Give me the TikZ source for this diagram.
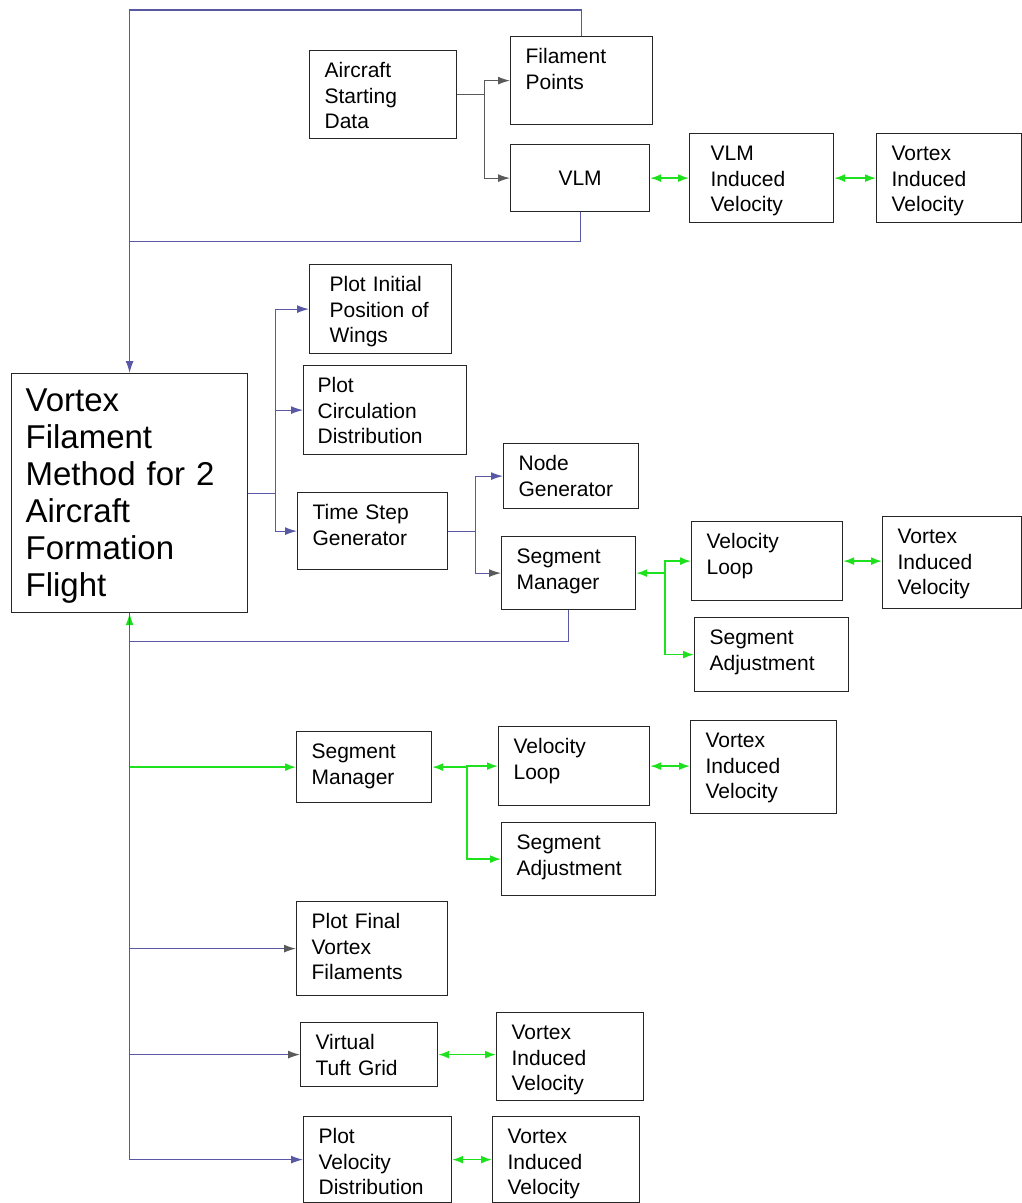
\documentclass[tikz,border=0pt]{standalone}
\usepackage{fontspec}
\setmainfont{Liberation Sans}
\usetikzlibrary{arrows.meta}

\definecolor{flowblue}{RGB}{88,88,165}
\definecolor{flowgreen}{RGB}{30,225,30}
\definecolor{flowgrey}{RGB}{90,90,90}

\begin{document}
\begin{tikzpicture}[x=1pt, y=-1pt,
    >={Latex[length=12pt,width=8pt]},
    block/.style 2 args={draw=black!85, line width=1.2pt, rectangle, align=left,
      anchor=north west, inner xsep=15pt, inner ysep=11pt, text height=16pt,
      text width=#1, text depth=#2, font=\fontsize{21}{25.5}\selectfont},
    blueline/.style={draw=flowblue, line width=1.2pt},
    greyline/.style={draw=flowgrey, line width=1.2pt},
    blue arrow/.style={blueline, ->},
    grey tip/.style={-{Latex[length=12pt,width=8pt,color=flowgrey]}},
    grey arrow/.style={greyline, grey tip},
    green arrow/.style={draw=flowgreen, line width=1.6pt, >={Latex[length=11pt,width=8pt]}, ->},
    ]
  \fill[white] (0,0) rectangle (1021,1203);
  \useasboundingbox (0,0) rectangle (1021,1203);

  % starting data and VLM
  \node[block={117pt}{50pt}] (asd) at (309,50) {Aircraft\\Starting\\Data};
  \node[block={112pt}{50pt}] (fpts) at (510,36) {Filament\\Points};
  \node[block={109pt}{15pt}, text height=30pt, align=center] (vlm) at (510,144) {VLM};
  \node[block={102pt}{51pt}, inner xsep=21pt] (vlmiv) at (689,133) {VLM\\Induced\\Velocity};
  \node[block={115pt}{51pt}] (viv1) at (876,133) {Vortex\\Induced\\Velocity};

  % main program
  \node[block={208pt}{190pt}, inner xsep=14pt, text height=27pt,
        font=\fontsize{33}{37}\selectfont] (main) at (11,373)
        {Vortex\\Filament\\Method for 2\\Aircraft\\Formation\\Flight};

  % initial plots and time stepping
  \node[block={102pt}{51pt}, inner xsep=20pt] (pinit) at (309,264) {Plot Initial\\Position of\\Wings};
  \node[block={135pt}{51pt}, inner xsep=14pt] (pcirc) at (303,365) {Plot\\Circulation\\Distribution};
  \node[block={120pt}{39pt}] (tsg) at (297,492) {Time Step\\Generator};
  \node[block={105pt}{27pt}] (ngen) at (503,443) {Node\\Generator};
  \node[block={104pt}{35pt}] (sm1) at (501,536) {Segment\\Manager};
  \node[block={121pt}{41pt}] (vl1) at (691,521) {Velocity\\Loop};
  \node[block={109pt}{54pt}] (viv2) at (882,516) {Vortex\\Induced\\Velocity};
  \node[block={124pt}{36pt}] (sa1) at (694,617) {Segment\\Adjustment};

  % final pass and plots
  \node[block={105pt}{33pt}] (sm2) at (296,731) {Segment\\Manager};
  \node[block={121pt}{41pt}] (vl2) at (498,726) {Velocity\\Loop};
  \node[block={116pt}{55pt}] (viv3) at (690,720) {Vortex\\Induced\\Velocity};
  \node[block={124pt}{35pt}] (sa2) at (501,822) {Segment\\Adjustment};
  \node[block={121pt}{56pt}] (pfin) at (296,901) {Plot Final\\Vortex\\Filaments};
  \node[block={107pt}{26pt}] (vtg) at (300,1022) {Virtual\\Tuft Grid};
  \node[block={117pt}{50pt}] (viv4) at (496,1012) {Vortex\\Induced\\Velocity};
  \node[block={118pt}{48pt}] (pvd) at (303,1116) {Plot\\Velocity\\Distribution};
  \node[block={117pt}{48pt}] (viv5) at (492,1116) {Vortex\\Induced\\Velocity};

  % starting data links
  \draw[greyline] (asd.east) -- ++(27,0) coordinate (asdj);
  \draw[grey arrow] (asdj) |- (fpts.west);
  \draw[grey arrow] (asdj) |- (vlm.west);

  % back to the main program
  \draw[blue arrow] (fpts.north) -- ++(0,-26) -| (main.north);
  \draw[blueline] (vlm.south) -- ++(0,29) coordinate (vlmd) -- (vlmd -| main.north);

  \draw[blueline] (main.east) -- ++(27,0) coordinate (mainj);
  \draw[blue arrow] (mainj) |- (pinit.west);
  \draw[blue arrow] (mainj) |- (pcirc.west);
  \draw[blue arrow] (mainj) |- (tsg.west);

  \draw[blueline] (tsg.east) -- ++(27,0) coordinate (tsgj);
  \draw[blue arrow] (tsgj) |- (ngen.west);
  \draw[blueline, grey tip] (tsgj) |- (sm1.west);
  \draw[blueline, -{Latex[length=12pt,width=8pt,color=flowgreen]}] (sm1.south) -- ++(0,31) -| (main.south);

  % spine below the main program
  \draw[blueline] (main.south) -- (main.south |- pvd.west);
  \draw[green arrow] (main.south |- sm2.west) -- (sm2.west);
  \draw[blueline, grey tip] (main.south |- pfin.west) -- (pfin.west);
  \draw[blueline, grey tip] (main.south |- vtg.west) -- (vtg.west);
  \draw[blue arrow] (main.south |- pvd.west) -- (pvd.west);

  % velocity links
  \draw[green arrow, <->] (vlm.east) -- (vlmiv.west);
  \draw[green arrow, <->] (vlmiv.east) -- (viv1.west);

  \draw[green arrow, <-] (sm1.east) -- ++(29,0) coordinate (sm1j);
  \draw[green arrow] (sm1j) |- (vl1.west);
  \draw[green arrow] (sm1j) |- (sa1.west);
  \draw[green arrow, <->] (vl1.east) -- (vl1.east -| viv2.west);

  \draw[green arrow, <-] (sm2.east) -- ++(35,0) coordinate (sm2j);
  \draw[green arrow] (sm2j) |- (vl2.west);
  \draw[green arrow] (sm2j) |- (sa2.west);
  \draw[green arrow, <->] (vl2.east) -- (vl2.east -| viv3.west);

  \draw[green arrow, <->] (vtg.east) -- (vtg.east -| viv4.west);
  \draw[green arrow, <->] (pvd.east) -- (pvd.east -| viv5.west);

\end{tikzpicture}
\end{document}
